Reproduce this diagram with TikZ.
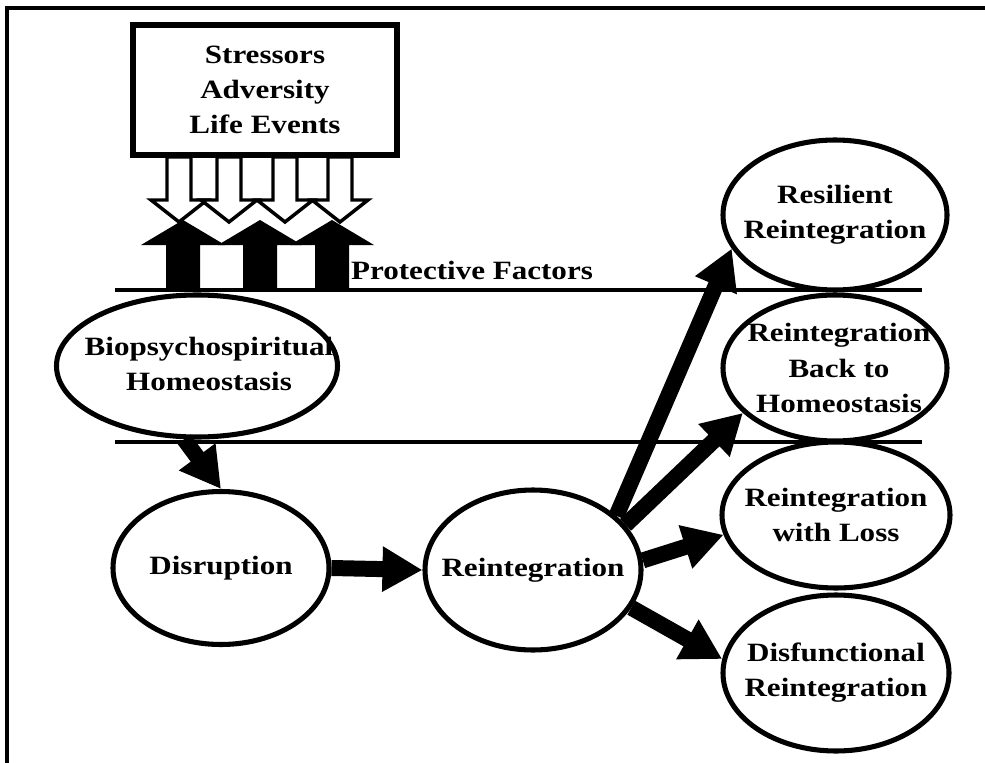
\documentclass[tikz,border=0pt]{standalone}
\usepackage{fontspec}
\setmainfont{Liberation Serif}
\usetikzlibrary{arrows.meta,shapes.geometric}
\begin{document}
\begin{tikzpicture}[x=0.75pt,y=-0.75pt,
  ell/.style={draw,ellipse,line width=3.8pt,fill=white,inner sep=0pt},
  txt/.style={font=\fontsize{23.3}{31}\selectfont\bfseries,align=center,yscale=0.85,inner sep=0pt},
  bigarrow/.style={line width=12pt,-{Triangle[length=30pt,width=32pt]}},
  uparrow/.style={fill=black},
  downarrow/.style={fill=white,draw=black,line width=2.6pt,line join=miter},
  hline/.style={line width=3.6pt}]
\useasboundingbox (0,0) rectangle (985,763);
% frame
\draw[line width=2.4pt] (7,763) -- (7,8) -- (985,8);
% stressor box
\node[draw,line width=4.5pt,minimum width=198pt,minimum height=97.5pt,inner sep=0pt] (stress) at (265,90) {};
\node[txt] (stresstxt) at (stress.center) {Stressors\\Adversity\\Life Events};
% down arrows (stressors)
\foreach \c in {179,229,285,340}{
  \draw[downarrow] (\c-12,157) -- (\c-12,200) -- (\c-28,200) -- (\c,222) -- (\c+28,200) -- (\c+12,200) -- (\c+12,157) -- cycle;
}
% up arrows (protective)
\foreach \c in {183,260,332}{
  \fill[uparrow] (\c-17,290) -- (\c-17,245) -- (\c-42,245) -- (\c,220) -- (\c+42,245) -- (\c+17,245) -- (\c+17,290) -- cycle;
}
% lines
\draw[hline] (115,290) -- (922,290);
\draw[hline] (115,442) -- (922,442);
\node[txt] (prot) at (472,270) {Protective Factors};
% ellipses
\node[ell,minimum width=210.75pt,minimum height=106.5pt] (bio) at (197,366) {};
\node[ell,minimum width=162pt,minimum height=114.75pt] (dis) at (221,568) {};
\node[ell,minimum width=162pt,minimum height=120pt] (rei) at (533,570) {};
\node[ell,minimum width=168pt,minimum height=112.5pt] (res) at (835,215) {};
\node[ell,minimum width=168pt,minimum height=109.5pt] (back) at (835,368) {};
\node[ell,minimum width=171pt,minimum height=109.5pt] (loss) at (836,515) {};
\node[ell,minimum width=169.5pt,minimum height=117pt] (disf) at (836,673) {};
% texts
\node[txt,xshift=9pt,yshift=2pt] (biot) at (bio.center) {Biopsychospiritual\\Homeostasis};
\node[txt] (dist) at (dis.center) {Disruption};
\node[txt] (reit) at (rei.center) {Reintegration};
\node[txt] (rest) at (res.center) {Resilient\\Reintegration};
\node[txt,xshift=3pt] (backt) at (back.center) {Reintegration\\Back to\\Homeostasis};
\node[txt] (losst) at (loss.center) {Reintegration\\with Loss};
\node[txt] (disft) at (disf.center) {Disfunctional\\Reintegration};
% arrows
\draw[bigarrow] (bio.-100) -- (dis.north);
\draw[bigarrow] (dis.east) -- (rei.west);
\draw[bigarrow] (rei.33) -- (res.198);
\draw[bigarrow] (rei.26) -- (back.206);
\draw[bigarrow] (rei.5) -- (loss.190);
\draw[bigarrow] (rei.-21) -- (disf.173);
\end{tikzpicture}
\end{document}
